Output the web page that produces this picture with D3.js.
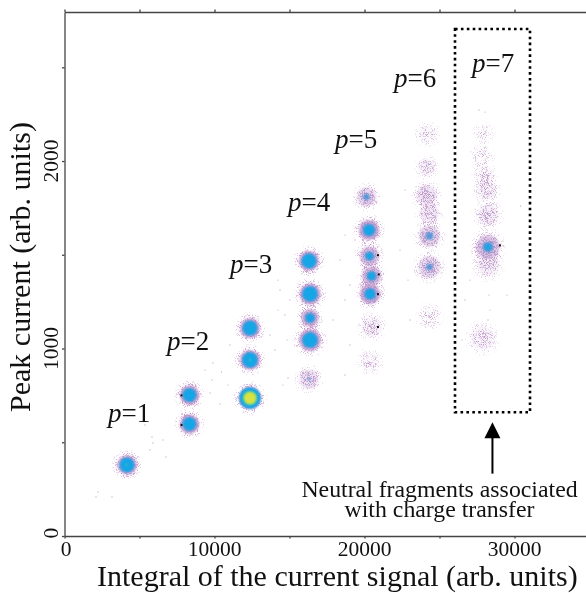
<!DOCTYPE html>
<html><head><meta charset="utf-8">
<script src="https://cdn.jsdelivr.net/npm/d3@7"></script>
<style>html,body{margin:0;background:#fff}svg{display:block;filter:blur(.35px)}text{font-family:"Liberation Serif",serif;fill:#111}</style>
</head><body><svg id="c" width="586" height="593"></svg>
<script>
// Cluster centres (arb. units)
const clusterX=[4167,8333,8333,12367,12367,12367,16300,16367,16367,16367,16300,20130,20300,20330,20470,20370,20470,20370,24200,24130,24130,24330,24330,24330,24330,27970,27830,28030,28170,28230,28230,28230,27870];
const clusterY=[379,597,752,736,939,1109,837,1045,1163,1291,1467,1808,1632,1493,1387,1291,1115,928,2144,1968,1819,1723,1600,1435,1168,2149,2032,1925,1845,1712,1541,1445,1056];
const clusterDensity=[.62,.48,.5,1.7,.62,.55,.1,.5,.28,.55,.55,.14,.34,.22,.24,.3,.045,.02,.022,.05,.09,.07,.15,.13,.012,.008,.008,.02,.045,.055,.2,.05,.04];
const clusterSpread=[4.6,4.6,4.6,5.2,4.8,4.8,4.6,5.2,4.2,5,4.8,4.6,4.8,4.6,4.6,4.8,4.8,4.4,4.2,4,4.8,4.6,5,5.2,4.6,3.6,4.2,4.4,4.6,5,5.6,5.2,5.6];
// Stray events between clusters
const strayX=[2233,2100,3167,5833,5900,6567,6767,5700,5367,9700,10900,10367,9833,9367,9900,11033,10467,14367,14233,14700,15033,14033,14567,14900,13700,14833,14233,18367,18700,19033,17900,19367,18700,18700,19033,22700,22367,22900,23033,27033,26700,28367,28300,28233,26500,27633,28033,29500,30400];
const strayY=[235,208,208,528,496,512,421,459,592,763,805,704,832,885,923,1019,875,1312,1205,1179,1259,992,805,843,1072,1045,1365,1472,1259,1339,1152,1579,859,1605,1019,1845,1525,1365,1152,1365,1259,1205,1285,1152,1045,2272,2261,1285,1760];
const blackX=[7800,7800,20900,20950,20900,20900,29030];
const blackY=[592,750,1498,1395,1290,1115,1550];
const xTicks=[0,5000,10000,15000,20000,25000,30000,35000];
const yTicks=[0,500,1000,1500,2000,2500];
const xLabelled=[0,10000,20000,30000];
const yLabelled=[0,1000,2000];
const pLabels=[["1",108,422],["2",167,350],["3",230,273],["4",288,211],["5",335,148],["6",394,87],["7",472,72]];
const boxX=[26033,31033], boxY=[2704,660];
const arrowX=28530, arrowY=[330,610];

const svg=d3.select("#c");
const x=d3.scaleLinear().domain([0,35033]).range([64.5,590]);
const y=d3.scaleLinear().domain([0,2795]).range([536,12]);
const defs=svg.append("defs");
const grad=defs.append("radialGradient").attr("id","g");
[[0,1],[.3,.74],[.6,.46],[.85,.2],[1,0]].forEach(([o,a])=>grad.append("stop").attr("offset",o).attr("stop-color","#000").attr("stop-opacity",a));
function speckle(id,color,seed,freq){
  const f=defs.append("filter").attr("id",id).attr("filterUnits","userSpaceOnUse")
    .attr("x",0).attr("y",0).attr("width",586).attr("height",593).attr("color-interpolation-filters","sRGB");
  f.append("feTurbulence").attr("type","fractalNoise").attr("baseFrequency",freq).attr("numOctaves",2).attr("seed",seed).attr("result","t");
  f.append("feColorMatrix").attr("in","t").attr("type","matrix").attr("values","0 0 0 0 0 0 0 0 0 0 0 0 0 0 0 3 0 0 0 -1").attr("result","n");
  f.append("feComposite").attr("in","n").attr("in2","SourceAlpha").attr("operator","arithmetic").attr("k1",0).attr("k2",1).attr("k3",1).attr("k4",-1).attr("result","a");
  f.append("feComponentTransfer").attr("in","a").attr("result","b").append("feFuncA").attr("type","linear").attr("slope",2.4).attr("intercept",0);
  f.append("feFlood").attr("flood-color",color).attr("result","fl");
  f.append("feComposite").attr("in","fl").attr("in2","b").attr("operator","in").attr("result","o");
  f.append("feGaussianBlur").attr("in","o").attr("stdDeviation",.45);
}
speckle("sp1","#c89ccc",3,1.1);
speckle("sp2","#9a90ca",11,.9);
defs.append("filter").attr("id","soft").attr("x","-50%").attr("y","-50%").attr("width","200%").attr("height","200%")
  .append("feGaussianBlur").attr("stdDeviation",1.3);

const idx=d3.range(clusterX.length);
const rAt=(i,t)=>clusterDensity[i]>t?clusterSpread[i]*Math.sqrt(2*Math.log(clusterDensity[i]/t)):0;
const clamp=v=>Math.max(0,Math.min(1,v));

// stray points
svg.append("g").selectAll("circle").data(strayX).join("circle")
  .attr("cx",d=>x(d)).attr("cy",(d,i)=>y(strayY[i])).attr("r",.7).attr("fill","#cdb0d2");
// soft lavender under-layer
svg.append("g").attr("filter","url(#soft)").selectAll("circle").data(idx).join("circle")
  .attr("cx",i=>x(clusterX[i])).attr("cy",i=>y(clusterY[i])).attr("r",i=>clusterSpread[i]*2.1)
  .attr("fill","#c9a9d6").attr("fill-opacity",i=>clamp(clusterDensity[i]*3.2));
// halo
svg.append("g").attr("filter","url(#sp1)").selectAll("circle").data(idx).join("circle")
  .attr("cx",i=>x(clusterX[i])).attr("cy",i=>y(clusterY[i])).attr("r",i=>clusterSpread[i]*3.5)
  .attr("fill","url(#g)").attr("fill-opacity",i=>clamp(.3+1.2*Math.sqrt(clusterDensity[i])));
// mid tone
svg.append("g").attr("filter","url(#sp2)").selectAll("circle").data(idx).join("circle")
  .attr("cx",i=>x(clusterX[i])).attr("cy",i=>y(clusterY[i])).attr("r",i=>clusterSpread[i]*2.3)
  .attr("fill","url(#g)").attr("fill-opacity",i=>clamp(.12+2.6*clusterDensity[i]));
// density levels
[[.09,"#5a96d8"],[.17,"#12a5e6"],[.6,"#35c6bf"],[.75,"#d8e23f"]].forEach(([t,c],k)=>{
  svg.append("g").attr("filter","url(#soft)").selectAll("circle").data(idx.filter(i=>clusterDensity[i]>t)).join("circle")
   .attr("cx",i=>x(clusterX[i])).attr("cy",i=>y(clusterY[i])).attr("r",i=>rAt(i,t)*(k==0?.75:.95)).attr("fill",c);
});
svg.append("g").selectAll("rect").data(blackX).join("rect")
  .attr("x",d=>x(d)-1).attr("y",(d,i)=>y(blackY[i])-1).attr("width",2).attr("height",2).attr("fill","#111");

// axes
function style(g){g.selectAll(".domain,line").attr("stroke","#444").attr("stroke-width",1.3);g.selectAll("text").remove();}
svg.append("g").attr("transform","translate(0,536)").call(d3.axisBottom(x).tickValues(xTicks).tickSize(2.5).tickSizeOuter(0)).call(style);
svg.append("g").attr("transform","translate(0,12)").call(d3.axisTop(x).tickValues(xTicks).tickSize(2.5).tickSizeOuter(0)).call(style);
svg.append("g").attr("transform","translate(64.5,0)").call(d3.axisLeft(y).tickValues(yTicks).tickSize(2.5).tickSizeOuter(0)).call(style);

svg.append("g").selectAll("text").data(xLabelled).join("text")
  .attr("x",d=>x(d)+(d==0?1.5:0)).attr("y",556).attr("text-anchor","middle").attr("font-size",21.5).text(d=>d);
svg.append("g").selectAll("text").data(yLabelled).join("text")
  .attr("transform",d=>`translate(58,${y(d)+(d==0?-3:0)}) rotate(-90)`).attr("text-anchor","middle").attr("font-size",21.5).text(d=>d);

svg.append("text").attr("x",97).attr("y",586).attr("font-size",30).text("Integral of the current signal (arb. units)");
svg.append("text").attr("transform","translate(30,412) rotate(-90)").attr("font-size",30).text("Peak current (arb. units)");

// p labels
pLabels.forEach(([n,px,py])=>{
  const t=svg.append("text").attr("x",px).attr("y",py).attr("font-size",27);
  t.append("tspan").attr("font-style","italic").text("p");
  t.append("tspan").text("="+n);
});

// dotted box
svg.append("rect").attr("x",x(boxX[0])).attr("y",y(boxY[0])).attr("width",x(boxX[1])-x(boxX[0])).attr("height",y(boxY[1])-y(boxY[0]))
  .attr("fill","none").attr("stroke","#000").attr("stroke-width",2.6).attr("stroke-dasharray","2.6 3.3");
// arrow
svg.append("line").attr("x1",x(arrowX)).attr("x2",x(arrowX)).attr("y1",y(arrowY[0])-.5).attr("y2",y(arrowY[1])+10).attr("stroke","#000").attr("stroke-width",2);
svg.append("path").attr("d",`M${x(arrowX)},${y(arrowY[1])+.5}l8,16h-16z`).attr("fill","#000");
// note
const note=svg.append("text").attr("text-anchor","middle").attr("font-size",23.8);
note.append("tspan").attr("x",439.5).attr("y",497).text("Neutral fragments associated");
note.append("tspan").attr("x",439.5).attr("y",517).text("with charge transfer");
</script></body></html>
